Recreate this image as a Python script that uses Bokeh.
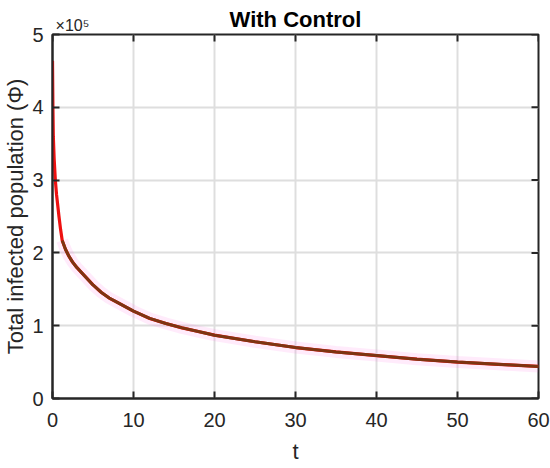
from bokeh.plotting import figure
from bokeh.models import Range1d, FixedTicker, LinearAxis
from bokeh.embed import file_html
from bokeh.resources import INLINE

# ---- data ----
t_red = [0, 0.05, 0.1, 0.2, 0.35, 0.5, 0.6, 0.8, 1.0, 1.2, 1.6, 2, 2.5, 3, 3.5, 4, 5, 6, 7, 8,
         10, 12, 14, 16, 18, 20, 25, 30, 35, 40, 45, 50, 55, 60]
phi_red = [464000, 400000, 360000, 330000, 300000, 280000, 270000, 250000, 232000, 217000,
           205000, 196000, 187000, 180000, 174000, 168000, 156000, 146000, 138000, 132000,
           120000, 110000, 103000, 97000, 92000, 87000, 78000, 70000, 64000, 59000, 54000,
           50000, 47000, 44000]
t_ctrl = [1.2, 1.6, 2, 2.5, 3, 3.5, 4, 5, 6, 7, 8, 10, 12, 14, 16, 18, 20, 25, 30, 35, 40,
          45, 50, 55, 60]
phi_ctrl = [217000, 205000, 196000, 187000, 180000, 174000, 168000, 156000, 146000, 138000,
            132000, 120000, 110000, 103000, 97000, 92000, 87000, 78000, 70000, 64000, 59000,
            54000, 50000, 47000, 44000]

x_ticks = [0, 10, 20, 30, 40, 50, 60]
y_ticks = [0, 100000, 200000, 300000, 400000, 500000]
y_tick_labels = ["0", "1", "2", "3", "4", "5"]
exponent_text = "\u2003\u2003\u2002×10⁵"   # leading wide spaces push the centred label right
title_text = "With Control"
x_max = 60
y_max = 500000

FONT = "Liberation Sans"
AX = "#262626"

p = figure(width=550, height=468, x_range=Range1d(0, x_max), y_range=Range1d(0, y_max),
           output_backend="svg", toolbar_location=None,
           min_border_left=52, min_border_right=12, min_border_top=34, min_border_bottom=70)

p.background_fill_color = "white"
p.border_fill_color = "white"
p.outline_line_color = AX
p.outline_line_width = 2

xa = p.xaxis[0]
ya = p.yaxis[0]
for ax in (xa, ya):
    ax.axis_line_color = AX
    ax.axis_line_width = 2
    ax.major_tick_line_color = AX
    ax.major_tick_line_width = 2
    ax.major_tick_in = 7
    ax.major_tick_out = 0
    ax.minor_tick_line_color = None
    ax.major_label_text_font = FONT
    ax.major_label_text_color = AX
    ax.major_label_text_font_size = "20px"
    ax.axis_label_text_font = FONT
    ax.axis_label_text_font_size = "22px"
    ax.axis_label_text_font_style = "normal"
    ax.axis_label_text_color = AX
xa.ticker = FixedTicker(ticks=x_ticks)
ya.ticker = FixedTicker(ticks=y_ticks)
ya.major_label_overrides = {v: s for v, s in zip(y_ticks, y_tick_labels)}
xa.axis_label = "t"
ya.axis_label = "Total infected population (Φ)"
xa.major_label_standoff = 14
xa.axis_label_standoff = 9
ya.major_label_standoff = 9
ya.axis_label_standoff = 1

# top band: exponent marker (x10^5) as the only tick label, title as the axis label
top_axis = LinearAxis(ticker=FixedTicker(ticks=[0]), major_label_overrides={0: exponent_text})
top_axis.axis_line_color = None
top_axis.major_tick_line_color = None
top_axis.minor_tick_line_color = None
top_axis.major_tick_in = 0
top_axis.major_tick_out = 0
top_axis.major_label_standoff = 1
top_axis.major_label_text_font = FONT
top_axis.major_label_text_font_size = "16px"
top_axis.major_label_text_color = AX
top_axis.axis_label = title_text
top_axis.axis_label_text_font = FONT
top_axis.axis_label_text_font_size = "22px"
top_axis.axis_label_text_font_style = "bold"
top_axis.axis_label_text_color = "black"
top_axis.axis_label_standoff = -18
p.add_layout(top_axis, "above")

p.xgrid.ticker = FixedTicker(ticks=x_ticks)
p.ygrid.ticker = FixedTicker(ticks=y_ticks)
for g in (p.xgrid, p.ygrid):
    g.grid_line_color = "#dedede"
    g.grid_line_width = 2

# inward tick marks on the top and right edges (outer half clipped by the frame)
p.scatter(x_ticks, [y_max] * len(x_ticks), marker="dash", size=14, angle=1.5708,
          line_color=AX, line_width=2)
p.scatter([x_max] * len(y_ticks), y_ticks, marker="dash", size=14,
          line_color=AX, line_width=2)

p.line(t_ctrl, phi_ctrl, line_color="#ff70e0", line_alpha=0.14, line_width=12)
p.line(t_red, phi_red, line_color="#ee1111", line_width=3.2)
p.line(t_ctrl, phi_ctrl, line_color="#7d3512", line_width=3)

open("out.html", "w").write(file_html(p, INLINE))
